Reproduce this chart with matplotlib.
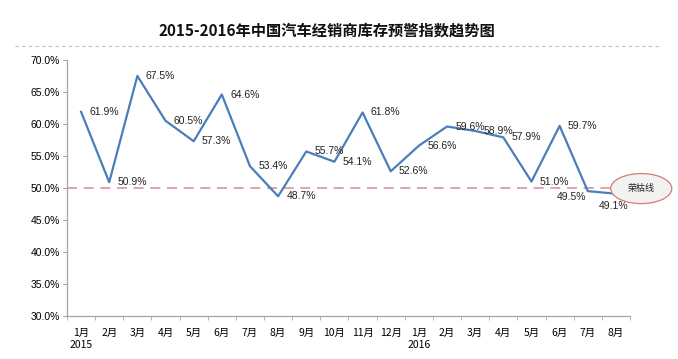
import numpy as np
import matplotlib.pyplot as plt
from matplotlib.patches import Ellipse

plt.rcParams['font.family'] = ['Noto Sans CJK SC', 'DejaVu Sans']

# data
months = ['1月', '2月', '3月', '4月', '5月', '6月', '7月', '8月', '9月', '10月', '11月', '12月',
          '1月', '2月', '3月', '4月', '5月', '6月', '7月', '8月']
years = {0: '2015', 12: '2016'}
index = [61.9, 50.9, 67.5, 60.5, 57.3, 64.6, 53.4, 48.7, 55.7, 54.1, 61.8, 52.6,
         56.6, 59.6, 58.9, 57.9, 51.0, 59.7, 49.5, 49.1]
threshold = 50.0

fig = plt.figure(figsize=(6.78, 3.59), dpi=100)
ax = fig.add_axes([0.0988, 0.12, 0.8304, 0.713])

x = np.arange(len(index))
ax.plot(x, index, color='#4a7ebb', lw=1.6, zorder=3)
ax.plot([-0.5, 18.8], [threshold, threshold], color='#d99694', lw=1.2,
        ls=(0, (6, 4)), zorder=2, clip_on=False)

# data labels
for i, v in enumerate(index):
    if i == 18:
        off, ha, va = (-12, -4), 'center', 'center'
    elif i == 19:
        off, ha, va = (-2, -9), 'center', 'center'
    else:
        off, ha, va = (6, 0), 'left', 'center'
    ax.annotate(f'{v:.1f}%', (i, v), xytext=off, textcoords='offset points',
                ha=ha, va=va, fontsize=7.5, color='#222222',
                family=['Liberation Sans', 'DejaVu Sans'], zorder=4)

# threshold bubble
ell = Ellipse((19.9, threshold - 0.1), 2.17, 4.7, facecolor='#f2f2f2',
              edgecolor='#d07c7a', lw=0.9, clip_on=False, zorder=5)
ax.add_patch(ell)
ax.text(19.9, threshold - 0.1, '荣枯线', ha='center', va='center', fontsize=6.5,
        color='#222222', zorder=6, clip_on=False)

ax.set_xlim(-0.5, len(index) - 0.5)
ax.set_ylim(30, 70)
ax.set_yticks(np.arange(30, 71, 5))
ax.set_yticklabels([f'{t:.1f}%' for t in np.arange(30, 71, 5)],
                   family=['Liberation Sans', 'DejaVu Sans'], fontsize=7.5)

labels = [m + ('\n' + years[i] if i in years else '') for i, m in enumerate(months)]
ax.set_xticks(x)
ax.set_xticklabels(labels, fontsize=7.5, linespacing=1.2, va='top')
ax.set_xticks(np.arange(-0.5, len(index)), minor=True)
ax.tick_params(axis='x', which='major', length=0, pad=9)
ax.tick_params(axis='x', which='minor', length=3, color='#a6a6a6', direction='out')
ax.tick_params(axis='y', length=3, color='#a6a6a6', direction='out', pad=2)

for s in ['top', 'right']:
    ax.spines[s].set_visible(False)
for s in ['left', 'bottom']:
    ax.spines[s].set_color('#a6a6a6')
    ax.spines[s].set_linewidth(0.9)

fig.text(0.482, 0.915, '2015-2016年中国汽车经销商库存预警指数趋势图', ha='center', va='center',
         fontsize=11, fontweight='bold', color='#111111')
fig.add_artist(plt.Line2D([0.022, 0.973], [0.872, 0.872], color='#bfbfbf', lw=0.8,
                          ls=(0, (3, 3))))

fig.savefig('out.png', dpi=100)
